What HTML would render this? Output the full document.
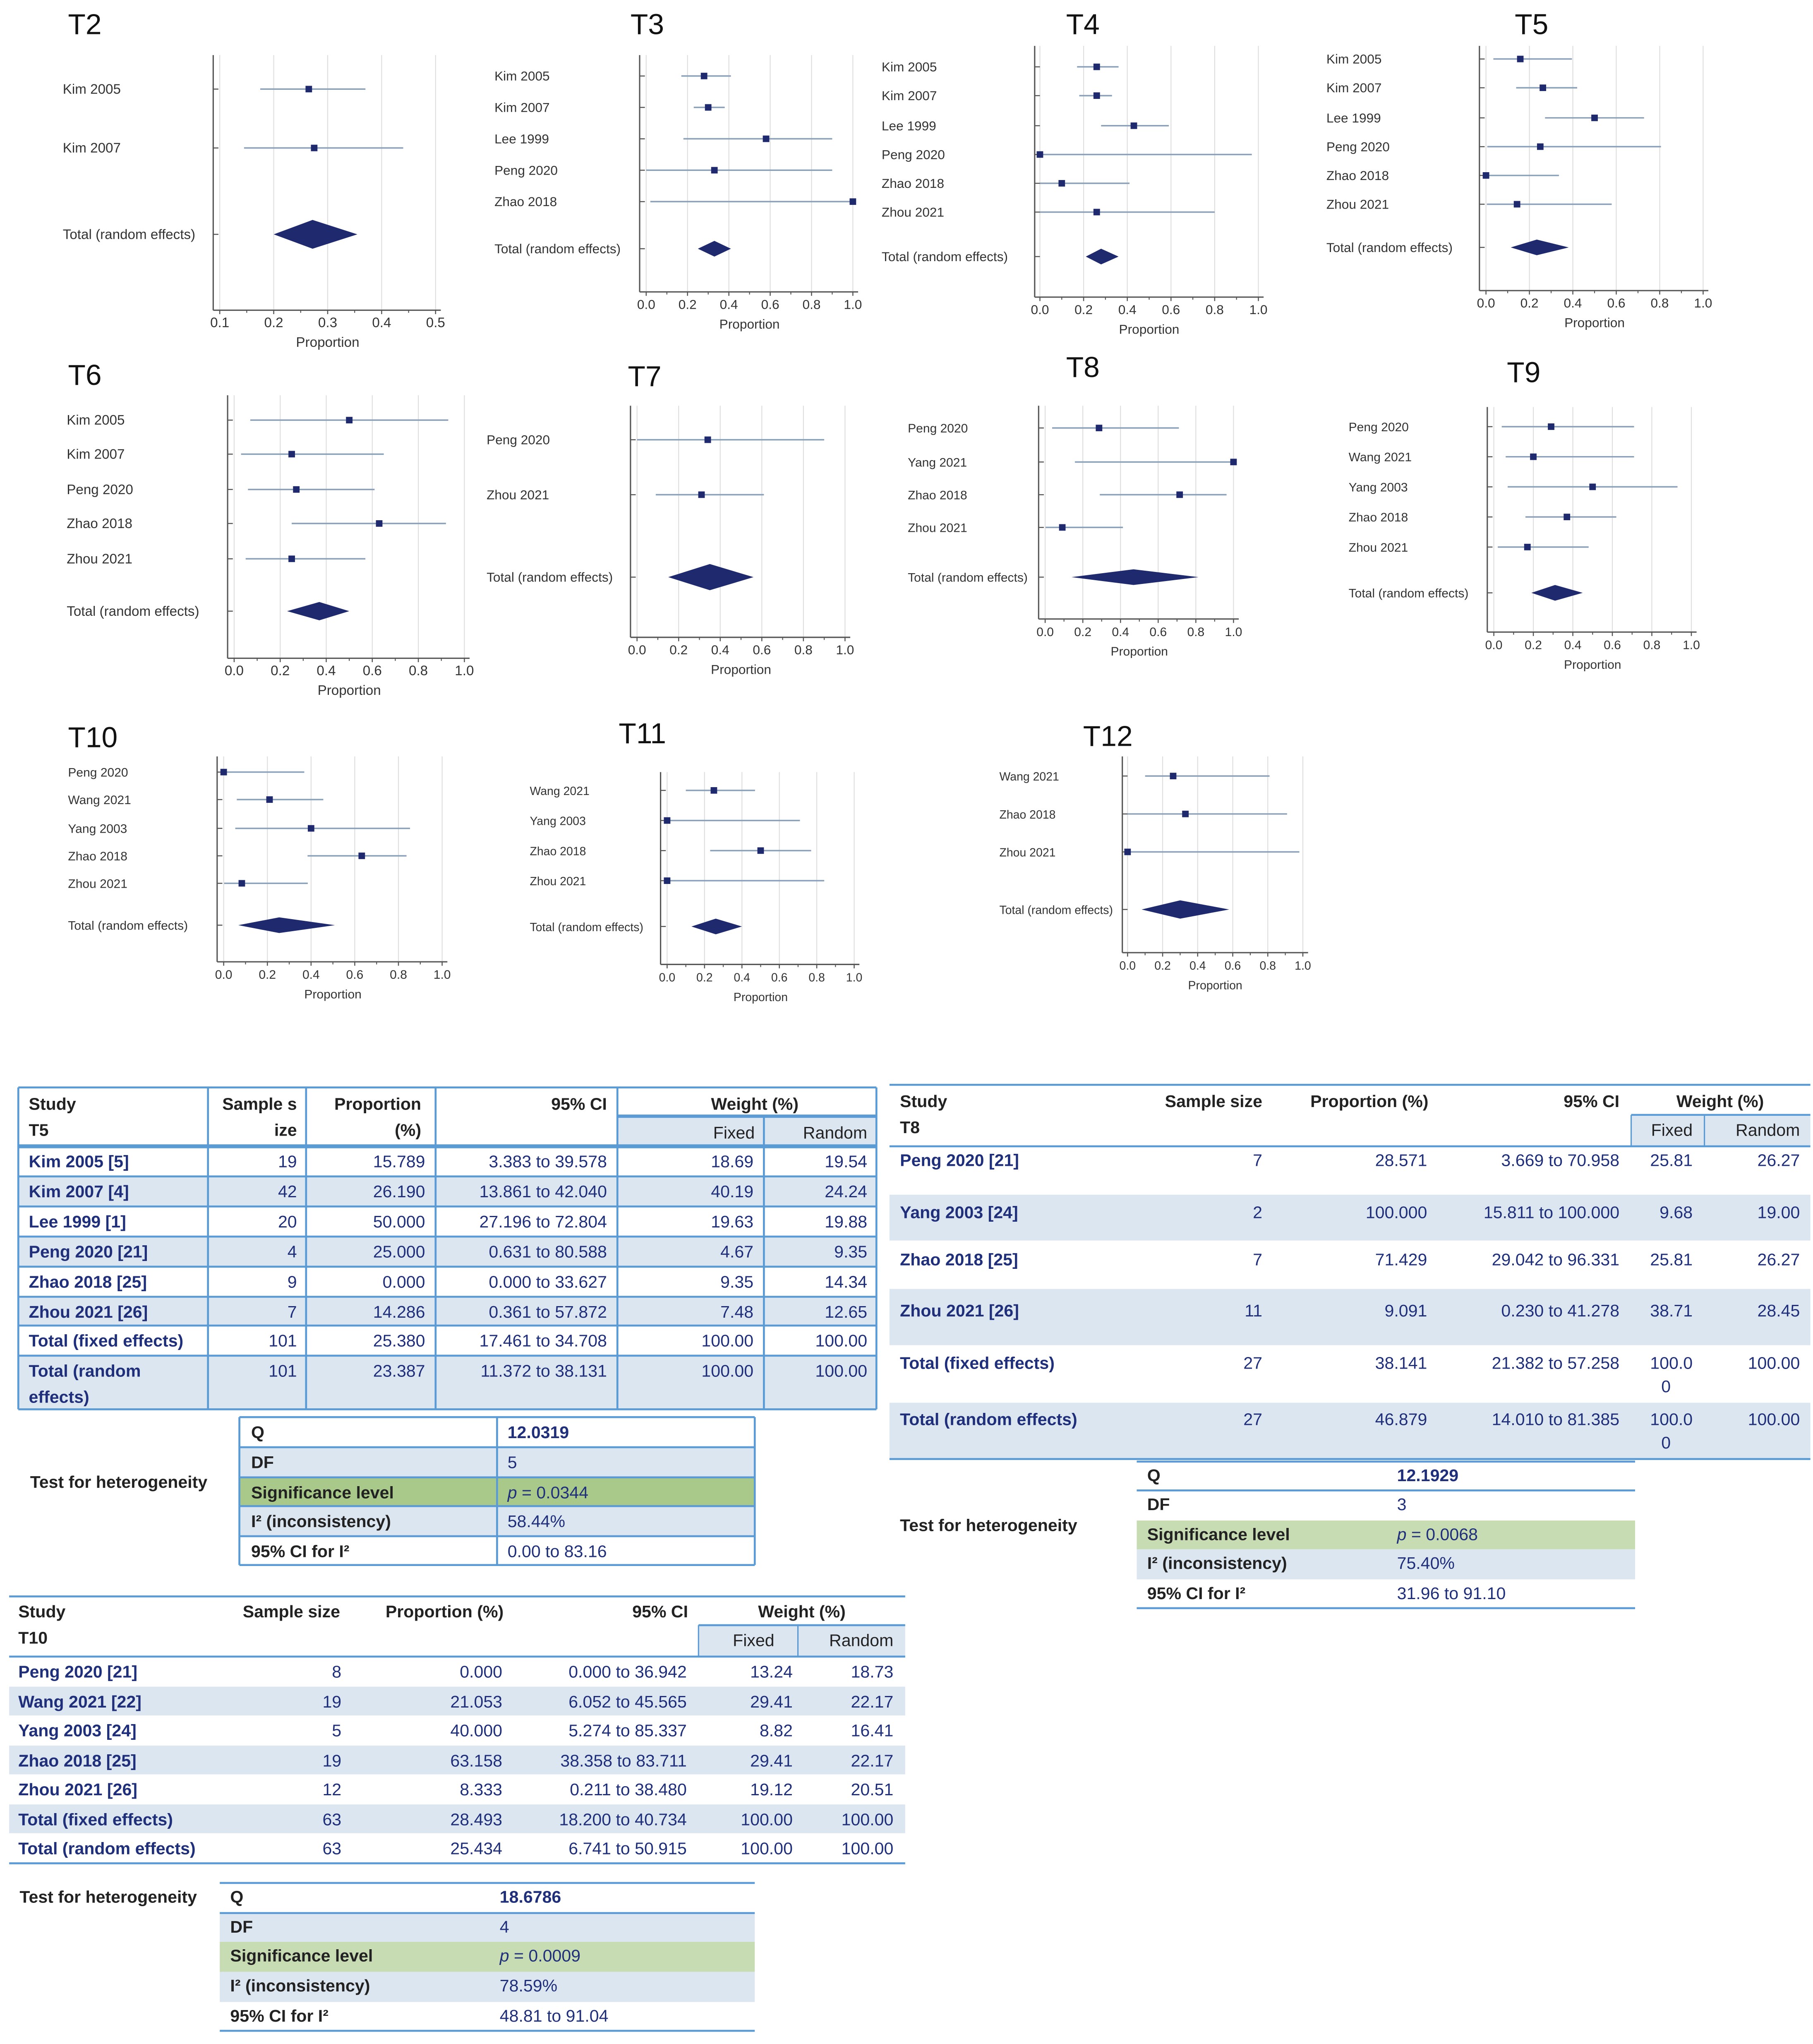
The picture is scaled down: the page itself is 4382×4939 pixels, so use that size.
<!DOCTYPE html>
<html><head><meta charset="utf-8"><style>
html,body{margin:0;padding:0;background:#fff;}
svg{display:block;}
</style></head><body>
<svg id="root" xmlns="http://www.w3.org/2000/svg" width="4382" height="4939" viewBox="0 0 1386 1562"></svg>
<script>
// ===== Forest plot data =====
const t2Studies=["Kim 2005","Kim 2007"];
const t2Est=[0.265,0.275];const t2Lo=[0.175,0.145];const t2Hi=[0.37,0.44];
const t2Total=[0.272,0.2,0.355];const t2Ticks=[0.1,0.2,0.3,0.4,0.5];const t2TickLabels=["0.1","0.2","0.3","0.4","0.5"];

const t3Studies=["Kim 2005","Kim 2007","Lee 1999","Peng 2020","Zhao 2018"];
const t3Est=[0.28,0.30,0.58,0.33,1.0];const t3Lo=[0.17,0.23,0.18,0.0,0.02];const t3Hi=[0.41,0.38,0.90,0.90,1.0];
const t3Total=[0.33,0.25,0.41];
const t3Ticks=[0,0.2,0.4,0.6,0.8,1.0];const t3TickLabels=["0.0","0.2","0.4","0.6","0.8","1.0"];

const t4Studies=["Kim 2005","Kim 2007","Lee 1999","Peng 2020","Zhao 2018","Zhou 2021"];
const t4Est=[0.26,0.26,0.43,0.0,0.1,0.26];const t4Lo=[0.17,0.18,0.28,0.0,0.0,0.0];const t4Hi=[0.36,0.33,0.59,0.97,0.41,0.80];
const t4Total=[0.28,0.21,0.36];

const t5Studies=["Kim 2005","Kim 2007","Lee 1999","Peng 2020","Zhao 2018","Zhou 2021"];
const t5Est=[0.158,0.262,0.5,0.25,0.0,0.143];const t5Lo=[0.034,0.139,0.272,0.006,0.0,0.004];const t5Hi=[0.396,0.420,0.728,0.806,0.336,0.579];
const t5Total=[0.234,0.114,0.381];

const t6Studies=["Kim 2005","Kim 2007","Peng 2020","Zhao 2018","Zhou 2021"];
const t6Est=[0.5,0.25,0.27,0.63,0.25];const t6Lo=[0.07,0.03,0.06,0.25,0.05];const t6Hi=[0.93,0.65,0.61,0.92,0.57];
const t6Total=[0.37,0.23,0.5];

const t7Studies=["Peng 2020","Zhou 2021"];
const t7Est=[0.34,0.31];const t7Lo=[0.0,0.09];const t7Hi=[0.90,0.61];
const t7Total=[0.35,0.15,0.56];

const t8Studies=["Peng 2020","Yang 2021","Zhao 2018","Zhou 2021"];
const t8Est=[0.286,1.0,0.714,0.091];const t8Lo=[0.037,0.158,0.29,0.002];const t8Hi=[0.71,1.0,0.963,0.413];
const t8Total=[0.469,0.14,0.814];

const t9Studies=["Peng 2020","Wang 2021","Yang 2003","Zhao 2018","Zhou 2021"];
const t9Est=[0.29,0.2,0.5,0.37,0.17];const t9Lo=[0.04,0.06,0.07,0.16,0.02];const t9Hi=[0.71,0.71,0.93,0.62,0.48];
const t9Total=[0.31,0.19,0.45];

const t10Studies=["Peng 2020","Wang 2021","Yang 2003","Zhao 2018","Zhou 2021"];
const t10Est=[0.0,0.21,0.4,0.632,0.083];const t10Lo=[0.0,0.06,0.053,0.384,0.002];const t10Hi=[0.369,0.456,0.853,0.837,0.385];
const t10Total=[0.254,0.067,0.509];

const t11Studies=["Wang 2021","Yang 2003","Zhao 2018","Zhou 2021"];
const t11Est=[0.25,0.0,0.5,0.0];const t11Lo=[0.1,0.0,0.23,0.0];const t11Hi=[0.47,0.71,0.77,0.84];
const t11Total=[0.26,0.13,0.4];

const t12Studies=["Wang 2021","Zhao 2018","Zhou 2021"];
const t12Est=[0.26,0.33,0.0];const t12Lo=[0.1,0.0,0.0];const t12Hi=[0.81,0.91,0.98];
const t12Total=[0.3,0.08,0.58];

const NS="http://www.w3.org/2000/svg";
const root=document.getElementById('root');
function el(tag,attrs,name,parent){
  const e=document.createElementNS(NS,tag);
  for(const k in attrs) e.setAttribute(k,attrs[k]);
  
  
  (parent||root).appendChild(e);return e;
}
function txt(x,y,s,size,opt,name,parent){
  opt=opt||{};
  const t=el('text',{x:x,y:y,'font-size':size,'font-family':opt.ff||'"Liberation Sans", sans-serif',fill:opt.fill||'#222','text-anchor':opt.anchor||'start','font-weight':opt.bold?'bold':'normal','font-style':opt.italic?'italic':'normal'},name,parent);
  t.textContent=s;return t;
}
function forest(id,title,lay,studies,est,lo,hi,total,ticks,tickLabels){
  const g=el('g',{},id+'-forest-plot');
  txt(lay.tx,lay.ty,title,22,{fill:'#111'},id+'-title',g);
  const xs=v=>lay.x0+(v-ticks[0])/(ticks[ticks.length-1]-ticks[0])*(lay.x1-lay.x0);
  const mid=[];for(let i=0;i<ticks.length-1;i++)mid.push((ticks[i]+ticks[i+1])/2);
  ticks.forEach((t,i)=>{
    el('line',{x1:xs(t),x2:xs(t),y1:lay.top,y2:lay.bot,stroke:'#dedede','stroke-width':0.7},id+'-gridline',g);
    el('line',{x1:xs(t),x2:xs(t),y1:lay.bot,y2:lay.bot+3,stroke:'#555','stroke-width':0.8},id+'-x-tick',g);
    txt(xs(t),lay.bot+13,tickLabels[i],lay.fs,{anchor:'middle',fill:'#333'},id+'-x-tick-label',g);
  });
  mid.forEach(t=>{el('line',{x1:xs(t),x2:xs(t),y1:lay.bot,y2:lay.bot+2,stroke:'#555','stroke-width':0.7},id+'-x-minor-tick',g);});
  el('line',{x1:lay.ax,x2:lay.ax,y1:lay.top,y2:lay.bot,stroke:'#555','stroke-width':1},id+'-y-axis',g);
  el('line',{x1:lay.ax,x2:lay.x1+4,y1:lay.bot,y2:lay.bot,stroke:'#555','stroke-width':1},id+'-x-axis',g);
  txt((lay.x0+lay.x1)/2,lay.bot+28,'Proportion',lay.fs,{anchor:'middle',fill:'#333'},id+'-x-axis-title',g);
  studies.forEach((s,i)=>{
    const y=lay.rows[i];
    txt(lay.lx,y+3.5,s,lay.fs,{fill:'#333'},id+'-study-label',g);
    el('line',{x1:lay.ax,x2:lay.ax+4,y1:y,y2:y,stroke:'#555','stroke-width':0.8},id+'-row-tick',g);
    el('line',{x1:xs(lo[i]),x2:xs(hi[i]),y1:y,y2:y,stroke:'#8aa0b8','stroke-width':1.1},id+'-ci-line',g);
    el('rect',{x:xs(est[i])-2.5,y:y-2.5,width:5,height:5,fill:'#1f2a6e'},id+'-point-estimate',g);
  });
  const ty=lay.trow;
  txt(lay.lx,ty+3.5,'Total (random effects)',lay.fs,{fill:'#333'},id+'-total-label',g);
  el('line',{x1:lay.ax,x2:lay.ax+4,y1:ty,y2:ty,stroke:'#555','stroke-width':0.8},id+'-row-tick',g);
  const h=lay.dh;
  el('polygon',{points:`${xs(total[1])},${ty} ${xs(total[0])},${ty-h} ${xs(total[2])},${ty} ${xs(total[0])},${ty+h}`,fill:'#1f2a6e'},id+'-pooled-diamond',g);
}
const T01=[0,0.2,0.4,0.6,0.8,1.0],L01=["0.0","0.2","0.4","0.6","0.8","1.0"];
forest('t2','T2',{tx:52,ty:26,ax:163,top:42,bot:237,x0:168,x1:333,lx:48,rows:[68,113],trow:179,dh:11,fs:10.5},t2Studies,t2Est,t2Lo,t2Hi,t2Total,t2Ticks,t2TickLabels);
forest('t3','T3',{tx:482,ty:26,ax:489,top:42,bot:223,x0:494,x1:652,lx:378,rows:[58,82,106,130,154],trow:190,dh:6,fs:10},t3Studies,t3Est,t3Lo,t3Hi,t3Total,T01,L01);
forest('t4','T4',{tx:815,ty:26,ax:791,top:35,bot:227,x0:795,x1:962,lx:674,rows:[51,73,96,118,140,162],trow:196,dh:6,fs:10},t4Studies,t4Est,t4Lo,t4Hi,t4Total,T01,L01);
forest('t5','T5',{tx:1158,ty:26,ax:1131,top:35,bot:222,x0:1136,x1:1302,lx:1014,rows:[45,67,90,112,134,156],trow:189,dh:6,fs:10},t5Studies,t5Est,t5Lo,t5Hi,t5Total,T01,L01);
forest('t6','T6',{tx:52,ty:294,ax:174,top:302,bot:503,x0:179,x1:355,lx:51,rows:[321,347,374,400,427],trow:467,dh:7,fs:10.5},t6Studies,t6Est,t6Lo,t6Hi,t6Total,T01,L01);
forest('t7','T7',{tx:480,ty:295,ax:482,top:310,bot:487,x0:487,x1:646,lx:372,rows:[336,378],trow:441,dh:10,fs:10},t7Studies,t7Est,t7Lo,t7Hi,t7Total,T01,L01);
forest('t8','T8',{tx:815,ty:288,ax:794,top:310,bot:473,x0:799,x1:943,lx:694,rows:[327,353,378,403],trow:441,dh:6,fs:9.5},t8Studies,t8Est,t8Lo,t8Hi,t8Total,T01,L01);
forest('t9','T9',{tx:1152,ty:292,ax:1137,top:311,bot:483,x0:1142,x1:1293,lx:1031,rows:[326,349,372,395,418],trow:453,dh:6,fs:9.5},t9Studies,t9Est,t9Lo,t9Hi,t9Total,T01,L01);
forest('t10','T10',{tx:52,ty:571,ax:166,top:578,bot:735,x0:171,x1:338,lx:52,rows:[590,611,633,654,675],trow:707,dh:6,fs:9.5},t10Studies,t10Est,t10Lo,t10Hi,t10Total,T01,L01);
forest('t11','T11',{tx:473,ty:568,ax:505,top:590,bot:737,x0:510,x1:653,lx:405,rows:[604,627,650,673],trow:708,dh:6,fs:9},t11Studies,t11Est,t11Lo,t11Hi,t11Total,T01,L01);
forest('t12','T12',{tx:828,ty:570,ax:858,top:578,bot:728,x0:862,x1:996,lx:764,rows:[593,622,651],trow:695,dh:7,fs:9},t12Studies,t12Est,t12Lo,t12Hi,t12Total,T01,L01);

// ===== Tables =====
const NAVY='#1f2f7a',FILL='#dce6f1',BLUE='#5b9bd5',GREEN='#a9c98b',FS=13;
const CF='"Liberation Sans", sans-serif';
function line(x1,y1,x2,y2,w,name,g){return el('line',{x1,y1,x2,y2,stroke:BLUE,'stroke-width':w},name,g);}
function rect(x,y,w,h,f,name,g){return el('rect',{x,y,width:w,height:h,fill:f},name,g);}

// T5 table
const t5Rows=[["Kim 2005 [5]","19","15.789","3.383 to 39.578","18.69","19.54"],["Kim 2007 [4]","42","26.190","13.861 to 42.040","40.19","24.24"],["Lee 1999 [1]","20","50.000","27.196 to 72.804","19.63","19.88"],["Peng 2020 [21]","4","25.000","0.631 to 80.588","4.67","9.35"],["Zhao 2018 [25]","9","0.000","0.000 to 33.627","9.35","14.34"],["Zhou 2021 [26]","7","14.286","0.361 to 57.872","7.48","12.65"],["Total (fixed effects)","101","25.380","17.461 to 34.708","100.00","100.00"],["Total (random|effects)","101","23.387","11.372 to 38.131","100.00","100.00"]];
(function(){
  const g=el('g',{},'t5-results-table');
  const cx=[14,159,234,333,472,584,670];
  const rb=[876,899,922,945,968,991,1013,1036,1077];
  rect(472,853,198,23,FILL,'t5-weight-subheader-fill',g);
  t5Rows.forEach((r,i)=>{ if(i%2==1) rect(14,rb[i],656,rb[i+1]-rb[i],FILL,'t5-row-fill',g); });
  txt(22,848,'Study',FS,{fill:'#222',bold:true,ff:CF},'t5-header-study',g);
  txt(22,868,'T5',FS,{fill:'#222',bold:true,ff:CF},'t5-header-t5',g);
  txt(227,848,'Sample s',FS,{fill:'#222',bold:true,anchor:'end',ff:CF},'t5-header-sample',g);
  txt(227,868,'ize',FS,{fill:'#222',bold:true,anchor:'end',ff:CF},'t5-header-sample',g);
  txt(322,848,'Proportion',FS,{fill:'#222',bold:true,anchor:'end',ff:CF},'t5-header-proportion',g);
  txt(322,868,'(%)',FS,{fill:'#222',bold:true,anchor:'end',ff:CF},'t5-header-proportion',g);
  txt(464,848,'95% CI',FS,{fill:'#222',bold:true,anchor:'end',ff:CF},'t5-header-ci',g);
  txt(577,848,'Weight (%)',FS,{fill:'#222',bold:true,anchor:'middle',ff:CF},'t5-header-weight',g);
  txt(577,870,'Fixed',FS,{fill:'#222',anchor:'end',ff:CF},'t5-header-fixed',g);
  txt(663,870,'Random',FS,{fill:'#222',anchor:'end',ff:CF},'t5-header-random',g);
  t5Rows.forEach((r,i)=>{
    const y=rb[i]+16;
    const parts=r[0].split('|');
    txt(22,y,parts[0],FS,{fill:NAVY,bold:true,ff:CF},'t5-study-name',g);
    if(parts[1]) txt(22,y+20,parts[1],FS,{fill:NAVY,bold:true,ff:CF},'t5-study-name',g);
    const rx=[0,227,325,464,576,663];
    for(let c=1;c<6;c++) txt(rx[c],y,r[c],FS,{fill:NAVY,anchor:'end',ff:CF},'t5-cell',g);
  });
  line(14,831,670,831,1.5,'t5-border',g);
  line(472,853,670,853,2.5,'t5-border',g);
  line(14,876,670,876,3,'t5-header-rule',g);
  rb.slice(1).forEach(y=>line(14,y,670,y,1.5,'t5-row-border',g));
  cx.forEach((x,i)=>line(x,(i==5?853:831),x,1077,1.5,'t5-col-border',g));
  // heterogeneity
  const hg=el('g',{},'t5-heterogeneity-table');
  const hr=[1083,1106,1129,1151,1174,1196];
  const hl=[["Q","12.0319"],["DF","5"],["Significance level","p = 0.0344"],["I² (inconsistency)","58.44%"],["95% CI for I²","0.00 to 83.16"]];
  const hf=['#fff',FILL,GREEN,FILL,'#fff'];
  hl.forEach((r,i)=>{
    rect(183,hr[i],394,hr[i+1]-hr[i],hf[i],'t5-het-row-fill',hg);
    txt(192,hr[i]+16,r[0],FS,{fill:'#222',bold:true,ff:CF},'t5-het-label',hg);
    if(i==2){const t=txt(388,hr[i]+16,'',FS,{fill:NAVY,ff:CF},'t5-het-value',hg);t.innerHTML='<tspan font-style="italic">p</tspan> = 0.0344';}
    else txt(388,hr[i]+16,r[1],FS,{fill:NAVY,bold:i==0,ff:CF},'t5-het-value',hg);
  });
  hr.forEach(y=>line(183,y,577,y,1.5,'t5-het-border',hg));
  line(183,hr[0],183,hr[5],1.5,'t5-het-border',hg);line(380,hr[0],380,hr[5],1.5,'t5-het-border',hg);line(577,hr[0],577,hr[5],1.5,'t5-het-border',hg);
  txt(23,1137,'Test for heterogeneity',FS,{fill:'#222',bold:true,ff:CF},'t5-het-title',hg);
})();

// T8 table
const t8Rows=[["Peng 2020 [21]","7","28.571","3.669 to 70.958","25.81","26.27"],["Yang 2003 [24]","2","100.000","15.811 to 100.000","9.68","19.00"],["Zhao 2018 [25]","7","71.429","29.042 to 96.331","25.81","26.27"],["Zhou 2021 [26]","11","9.091","0.230 to 41.278","38.71","28.45"],["Total (fixed effects)","27","38.141","21.382 to 57.258","100.0|0","100.00"],["Total (random effects)","27","46.879","14.010 to 81.385","100.0|0","100.00"]];
(function(){
  const g=el('g',{},'t8-results-table');
  const rb=[876,913,948,985,1028,1072,1115];
  rect(1247,853,137,23,FILL,'t8-weight-subheader-fill',g);
  t8Rows.forEach((r,i)=>{ if(i%2==1) rect(680,rb[i],704,rb[i+1]-rb[i],FILL,'t8-row-fill',g); });
  line(680,829,1384,829,1.5,'t8-border',g);
  line(1247,852,1384,852,1.5,'t8-border',g);
  line(1247,852,1247,876,1,'t8-border',g);line(1303,852,1303,876,1,'t8-border',g);
  line(680,876,1384,876,1.5,'t8-header-rule',g);
  line(680,1115,1384,1115,1.5,'t8-border',g);
  txt(688,846,'Study',FS,{fill:'#222',bold:true,ff:CF},'t8-header-study',g);
  txt(688,866,'T8',FS,{fill:'#222',bold:true,ff:CF},'t8-header-t8',g);
  txt(965,846,'Sample size',FS,{fill:'#222',bold:true,anchor:'end',ff:CF},'t8-header-sample',g);
  txt(1092,846,'Proportion (%)',FS,{fill:'#222',bold:true,anchor:'end',ff:CF},'t8-header-proportion',g);
  txt(1238,846,'95% CI',FS,{fill:'#222',bold:true,anchor:'end',ff:CF},'t8-header-ci',g);
  txt(1315,846,'Weight (%)',FS,{fill:'#222',bold:true,anchor:'middle',ff:CF},'t8-header-weight',g);
  txt(1294,868,'Fixed',FS,{fill:'#222',anchor:'end',ff:CF},'t8-header-fixed',g);
  txt(1376,868,'Random',FS,{fill:'#222',anchor:'end',ff:CF},'t8-header-random',g);
  const ty=[891,931,967,1006,1046,1089];
  t8Rows.forEach((r,i)=>{
    const y=ty[i];
    txt(688,y,r[0],FS,{fill:NAVY,bold:true,ff:CF},'t8-study-name',g);
    const rx=[0,965,1091,1238,1294,1376];
    for(let c=1;c<6;c++){
      const p=r[c].split('|');
      txt(rx[c],y,p[0],FS,{fill:NAVY,anchor:'end',ff:CF},'t8-cell',g);
      if(p[1]) txt(c==4?1270:rx[c],y+18,p[1],FS,{fill:NAVY,anchor:'start',ff:CF},'t8-cell',g);
    }
  });
  const hg=el('g',{},'t8-heterogeneity-table');
  const hr=[1117,1139,1162,1184,1207,1229];
  const hl=[["Q","12.1929"],["DF","3"],["Significance level","p = 0.0068"],["I² (inconsistency)","75.40%"],["95% CI for I²","31.96 to 91.10"]];
  const hf=['#fff','#fff','#c8dcb4',FILL,'#fff'];
  hl.forEach((r,i)=>{
    rect(869,hr[i],381,hr[i+1]-hr[i],hf[i],'t8-het-row-fill',hg);
    txt(877,hr[i]+15,r[0],FS,{fill:'#222',bold:true,ff:CF},'t8-het-label',hg);
    if(i==2){const t=txt(1068,hr[i]+15,'',FS,{fill:NAVY,ff:CF},'t8-het-value',hg);t.innerHTML='<tspan font-style="italic">p</tspan> = 0.0068';}
    else txt(1068,hr[i]+15,r[1],FS,{fill:NAVY,bold:i==0,ff:CF},'t8-het-value',hg);
  });
  line(869,1117,1250,1117,1.5,'t8-het-border',hg);line(869,1139,1250,1139,1.5,'t8-het-border',hg);line(869,1229,1250,1229,1.5,'t8-het-border',hg);
  txt(688,1170,'Test for heterogeneity',FS,{fill:'#222',bold:true,ff:CF},'t8-het-title',hg);
})();

// T10 table
const t10Rows=[["Peng 2020 [21]","8","0.000","0.000 to 36.942","13.24","18.73"],["Wang 2021 [22]","19","21.053","6.052 to 45.565","29.41","22.17"],["Yang 2003 [24]","5","40.000","5.274 to 85.337","8.82","16.41"],["Zhao 2018 [25]","19","63.158","38.358 to 83.711","29.41","22.17"],["Zhou 2021 [26]","12","8.333","0.211 to 38.480","19.12","20.51"],["Total (fixed effects)","63","28.493","18.200 to 40.734","100.00","100.00"],["Total (random effects)","63","25.434","6.741 to 50.915","100.00","100.00"]];
(function(){
  const g=el('g',{},'t10-results-table');
  const rb=[1266,1289,1311,1334,1356,1379,1401,1424];
  rect(534,1242,158,24,FILL,'t10-weight-subheader-fill',g);
  t10Rows.forEach((r,i)=>{ if(i%2==1) rect(7,rb[i],685,rb[i+1]-rb[i],FILL,'t10-row-fill',g); });
  line(7,1220,692,1220,1.5,'t10-border',g);
  line(534,1242,692,1242,1.5,'t10-border',g);
  line(534,1242,534,1266,1,'t10-border',g);line(610,1242,610,1266,1,'t10-border',g);
  line(7,1266,692,1266,1.5,'t10-header-rule',g);
  line(7,1424,692,1424,1.5,'t10-border',g);
  txt(14,1236,'Study',FS,{fill:'#222',bold:true,ff:CF},'t10-header-study',g);
  txt(14,1256,'T10',FS,{fill:'#222',bold:true,ff:CF},'t10-header-t10',g);
  txt(260,1236,'Sample size',FS,{fill:'#222',bold:true,anchor:'end',ff:CF},'t10-header-sample',g);
  txt(385,1236,'Proportion (%)',FS,{fill:'#222',bold:true,anchor:'end',ff:CF},'t10-header-proportion',g);
  txt(526,1236,'95% CI',FS,{fill:'#222',bold:true,anchor:'end',ff:CF},'t10-header-ci',g);
  txt(613,1236,'Weight (%)',FS,{fill:'#222',bold:true,anchor:'middle',ff:CF},'t10-header-weight',g);
  txt(592,1258,'Fixed',FS,{fill:'#222',anchor:'end',ff:CF},'t10-header-fixed',g);
  txt(683,1258,'Random',FS,{fill:'#222',anchor:'end',ff:CF},'t10-header-random',g);
  t10Rows.forEach((r,i)=>{
    const y=rb[i]+16;
    txt(14,y,r[0],FS,{fill:NAVY,bold:true,ff:CF},'t10-study-name',g);
    const rx=[0,261,384,525,606,683];
    for(let c=1;c<6;c++) txt(rx[c],y,r[c],FS,{fill:NAVY,anchor:'end',ff:CF},'t10-cell',g);
  });
  const hg=el('g',{},'t10-heterogeneity-table');
  const hr=[1439,1462,1484,1507,1530,1552];
  const hl=[["Q","18.6786"],["DF","4"],["Significance level","p = 0.0009"],["I² (inconsistency)","78.59%"],["95% CI for I²","48.81 to 91.04"]];
  const hf=['#fff',FILL,'#c8dcb4',FILL,'#fff'];
  hl.forEach((r,i)=>{
    rect(168,hr[i],409,hr[i+1]-hr[i],hf[i],'t10-het-row-fill',hg);
    txt(176,hr[i]+15,r[0],FS,{fill:'#222',bold:true,ff:CF},'t10-het-label',hg);
    if(i==2){const t=txt(382,hr[i]+15,'',FS,{fill:NAVY,ff:CF},'t10-het-value',hg);t.innerHTML='<tspan font-style="italic">p</tspan> = 0.0009';}
    else txt(382,hr[i]+15,r[1],FS,{fill:NAVY,bold:i==0,ff:CF},'t10-het-value',hg);
  });
  line(168,1439,577,1439,1.5,'t10-het-border',hg);line(168,1462,577,1462,1.5,'t10-het-border',hg);line(168,1552,577,1552,1.5,'t10-het-border',hg);
  txt(15,1454,'Test for heterogeneity',FS,{fill:'#222',bold:true,ff:CF},'t10-het-title',hg);
})();
</script>
</body></html>
